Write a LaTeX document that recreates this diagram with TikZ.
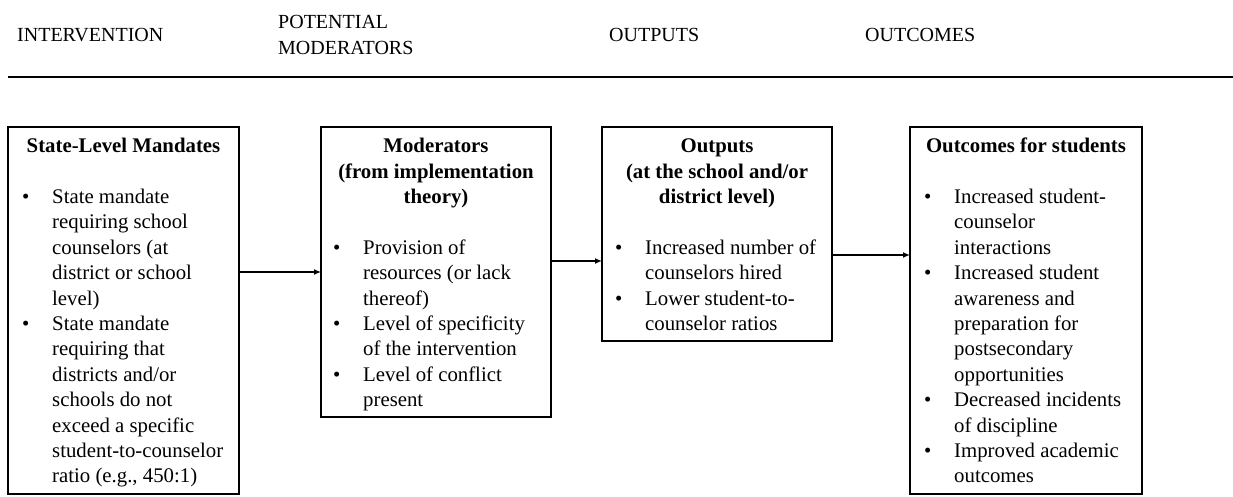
\documentclass[tikz,border=0pt]{standalone}
\usepackage{fontspec}
\setmainfont{Liberation Serif}
\usetikzlibrary{arrows.meta}

% bullet line and continuation line inside a box
\newcommand\bul{\strut\makebox[30pt][l]{\textbullet}}
\newcommand\cnt{\strut\hspace*{30pt}}

\tikzset{
  box/.style={draw, line width=1.8pt, inner sep=0pt, outer sep=0pt, anchor=north west},
  head/.style={inner sep=0pt, font=\fontsize{20}{26}\selectfont, align=left},
  title/.style={inner sep=0pt, font=\fontsize{20.8}{25.4}\selectfont\bfseries, align=center, anchor=north},
  body/.style={inner sep=0pt, font=\fontsize{20.8}{25.4}\selectfont, align=left, anchor=north west},
  arr/.style={line width=1.4pt, -{Latex[length=7pt,width=6pt]}},
  rule/.style={line width=2pt}
}

\begin{document}
\begin{tikzpicture}[x=1pt,y=-1pt]
  \path[fill=white, use as bounding box] (0,0) rectangle (1233,496);

  % column headings
  \node[head, anchor=base west] (hInt) at (17,41.5) {INTERVENTION};
  \node[head, anchor=north west] (hMod) at (278,10.3) {\strut POTENTIAL\\\strut MODERATORS};
  \node[head, anchor=base west] (hOutp) at (609,41.5) {OUTPUTS};
  \node[head, anchor=base west] (hOutc) at (865,41.5) {OUTCOMES};

  \coordinate (ruleL) at (8,77);
  \coordinate (ruleR) at (1233,77);
  \draw[rule] (ruleL) -- (ruleR);

  % boxes
  \node[box, minimum width=231pt, minimum height=367pt] (b1) at (8,127) {};
  \node[box, minimum width=230pt, minimum height=290pt] (b2) at (321,127) {};
  \node[box, minimum width=230pt, minimum height=214pt] (b3) at (602,127) {};
  \node[box, minimum width=232pt, minimum height=367pt] (b4) at (910,127) {};

  % box titles
  \node[title] (t1) at ([yshift=-7.7pt]b1.north) {\strut State-Level Mandates};
  \node[title] (t2) at ([yshift=-7.7pt]b2.north) {\strut Moderators\\\strut (from implementation\\\strut theory)};
  \node[title] (t3) at ([yshift=-7.7pt]b3.north) {\strut Outputs\\\strut (at the school and/or\\\strut district level)};
  \node[title] (t4) at ([yshift=-7.7pt]b4.north) {\strut Outcomes for students};

  % box contents
  \node[body] (c1) at ([xshift=14pt,yshift=-58.5pt]b1.north west) {%
    \bul State mandate\\
    \cnt requiring school\\
    \cnt counselors (at\\
    \cnt district or school\\
    \cnt level)\\
    \bul State mandate\\
    \cnt requiring that\\
    \cnt districts and/or\\
    \cnt schools do not\\
    \cnt exceed a specific\\
    \cnt student-to-counselor\\
    \cnt ratio (e.g., 450:1)};
  \node[body] (c2) at ([xshift=12pt,yshift=-109.3pt]b2.north west) {%
    \bul Provision of\\
    \cnt resources (or lack\\
    \cnt thereof)\\
    \bul Level of specificity\\
    \cnt of the intervention\\
    \bul Level of conflict\\
    \cnt present};
  \node[body] (c3) at ([xshift=13pt,yshift=-109.3pt]b3.north west) {%
    \bul Increased number of\\
    \cnt counselors hired\\
    \bul Lower student-to-\\
    \cnt counselor ratios};
  \node[body] (c4) at ([xshift=14pt,yshift=-58.5pt]b4.north west) {%
    \bul Increased student-\\
    \cnt counselor\\
    \cnt interactions\\
    \bul Increased student\\
    \cnt awareness and\\
    \cnt preparation for\\
    \cnt postsecondary\\
    \cnt opportunities\\
    \bul Decreased incidents\\
    \cnt of discipline\\
    \bul Improved academic\\
    \cnt outcomes};

  % connectors
  \draw[arr] (b1.east |- b2.west) -- (b2.west);
  \draw[arr] ([yshift=-134pt]b2.north east) -- ([yshift=-134pt]b2.north east -| b3.west);
  \draw[arr] ([yshift=-128pt]b3.north east) -- ([yshift=-128pt]b3.north east -| b4.west);
\end{tikzpicture}
\end{document}
